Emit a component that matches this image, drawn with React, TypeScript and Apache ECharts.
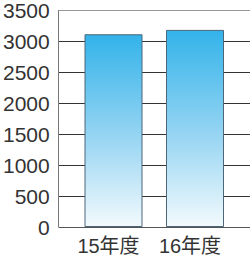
import React, { useEffect, useRef } from "react";
import * as echarts from "echarts";

const categories = ["15年度", "16年度"];
const values = [3080, 3150];
const yMin = 0;
const yMax = 3500;
const yInterval = 500;

export default function App() {
  const ref = useRef<HTMLDivElement>(null);
  useEffect(() => {
    document.body.style.margin = "0";
    const chart = echarts.init(ref.current!, null, { renderer: "svg" });
    const font = "Liberation Sans, Arial, Noto Sans CJK JP, sans-serif";
    chart.setOption({
      animation: false,
      backgroundColor: "#ffffff",
      grid: [
        { left: 58, top: 8, bottom: 29, right: -20, containLabel: false },
        { left: 72.75, top: 8, bottom: 29, width: 163, containLabel: false },
      ],
      xAxis: [
        {
          gridIndex: 0,
          type: "value",
          show: false,
        },
        {
          gridIndex: 1,
          type: "category",
          data: categories,
          axisLine: { show: false },
          axisTick: { show: false },
          axisLabel: {
            fontSize: 20,
            color: "#333",
            fontFamily: font,
            margin: 9,
            padding: [0, 10, 0, 0],
          },
        },
      ],
      yAxis: [
        {
          gridIndex: 0,
          type: "value",
          min: yMin,
          max: yMax,
          interval: yInterval,
          axisLine: { show: true, lineStyle: { color: "#777", width: 1 } },
          axisTick: { show: false },
          axisLabel: {
            fontSize: 21,
            color: "#333",
            fontFamily: font,
            margin: 9,
            formatter: (v: number) => String(v),
          },
          splitLine: {
            show: true,
            lineStyle: {
              color: ["#555", "#333", "#333", "#333", "#333", "#333", "#333", "#999"],
              width: 1,
            },
          },
        },
        {
          gridIndex: 1,
          type: "value",
          min: yMin,
          max: yMax,
          interval: yInterval,
          show: false,
          splitLine: { show: false },
        },
      ],
      series: [
        {
          type: "bar",
          xAxisIndex: 1,
          yAxisIndex: 1,
          data: values,
          barWidth: 58,
          itemStyle: {
            color: new echarts.graphic.LinearGradient(0, 0, 0, 1, [
              { offset: 0, color: "#33b3ea" },
              { offset: 0.55, color: "#9ad6f3" },
              { offset: 1, color: "#f2fafd" },
            ]),
            borderColor: "#4d6678",
            borderWidth: 1,
          },
        },
      ],
    });
    return () => chart.dispose();
  }, []);
  return (
    <div
      ref={ref}
      style={{ position: "absolute", left: 0, top: 0, width: 250, height: 256 }}
    />
  );
}
